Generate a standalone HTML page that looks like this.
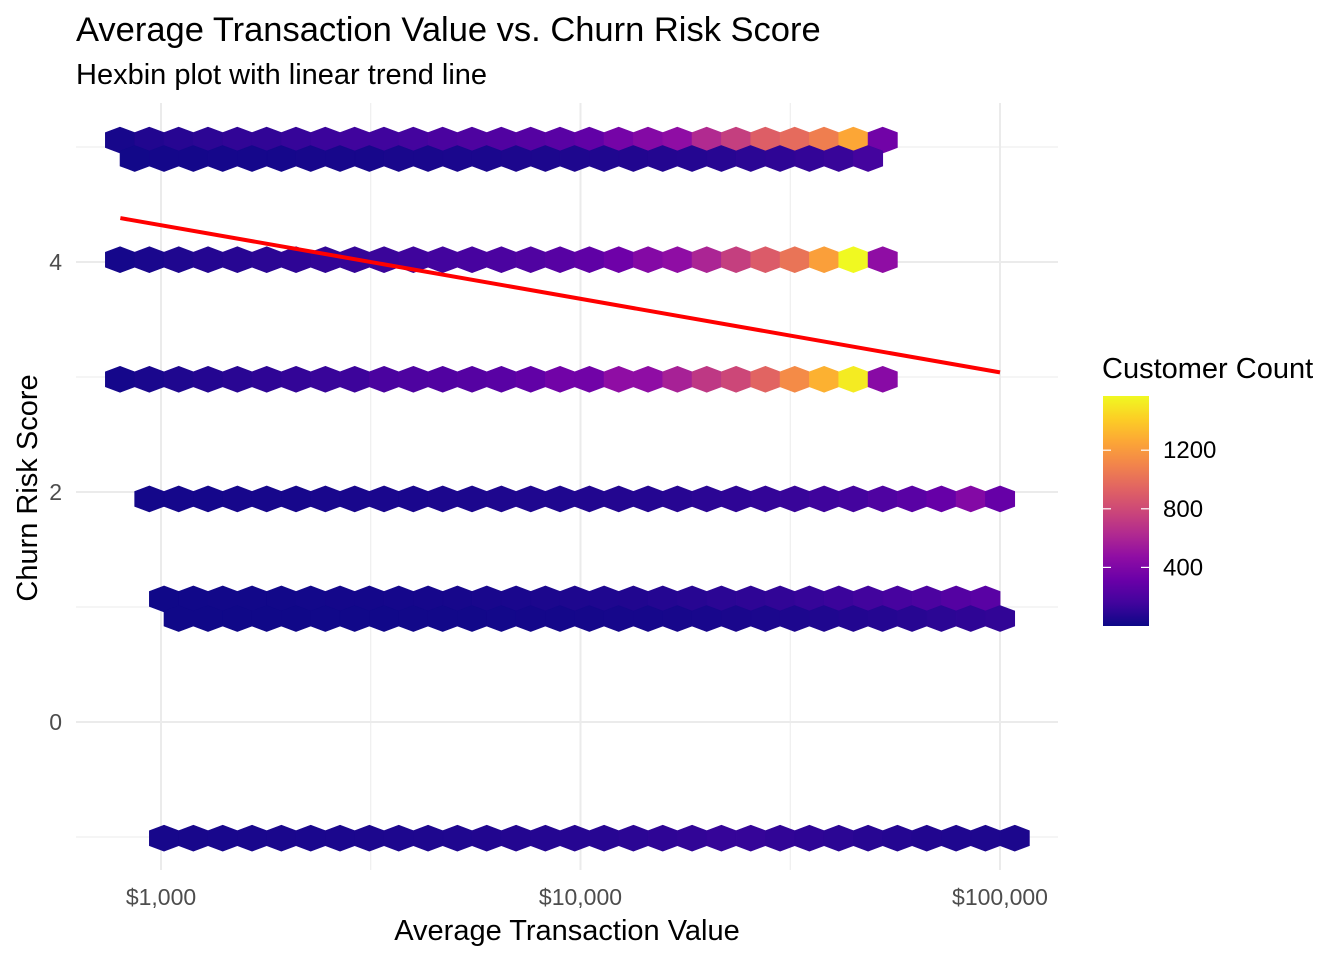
<!DOCTYPE html>
<html><head><meta charset="utf-8"><style>
html,body{margin:0;padding:0;background:#fff;}
svg text{font-family:"Liberation Sans",Arial,sans-serif;}
</style></head><body>
<svg id="chart" width="1344" height="960" xmlns="http://www.w3.org/2000/svg">
<defs>
<linearGradient id="plasma" x1="0" y1="1" x2="0" y2="0">
<stop offset="0" stop-color="#0d0887"/><stop offset="0.1" stop-color="#41049d"/><stop offset="0.2" stop-color="#6a00a8"/><stop offset="0.3" stop-color="#8f0da4"/><stop offset="0.4" stop-color="#b12a90"/><stop offset="0.5" stop-color="#cc4778"/><stop offset="0.6" stop-color="#e16462"/><stop offset="0.7" stop-color="#f2844b"/><stop offset="0.8" stop-color="#fca636"/><stop offset="0.9" stop-color="#fcce25"/><stop offset="1" stop-color="#f0f921"/>
</linearGradient>
</defs>
<g id="grid"></g>
<g id="hexes"></g>
<g id="trend"></g>
<g id="axes"></g>
<text x="76" y="41" font-size="34.5" fill="#000">Average Transaction Value vs. Churn Risk Score</text>
<text x="76" y="84" font-size="29" fill="#000">Hexbin plot with linear trend line</text>
<text x="567" y="940" font-size="29" text-anchor="middle" fill="#000">Average Transaction Value</text>
<text transform="translate(37,488) rotate(-90)" font-size="29" text-anchor="middle" fill="#000">Churn Risk Score</text>
<g>
<text x="1102" y="378" font-size="29" fill="#000">Customer Count</text>
<rect x="1103" y="396" width="46" height="230" fill="url(#plasma)"/>
<g id="legendTicks"></g>
</g>
</svg>
<script>
const xTicks=[1000,10000,100000];
const xTickLabels=["$1,000","$10,000","$100,000"];
const xMinor=[3162.28,31622.8];
const yTicks=[0,2,4];
const yMinor=[-1,1,3,5];
const legendTicks=[400,800,1200];
const rowY=[5.06,4.90,4.02,2.98,1.94,1.07,0.90,-1.01];
const rowLogStart=[2.9023,2.9373,2.9023,2.9023,2.9722,3.0072,3.0421,3.0072];
const row0=[30,60,80,95,110,110,125,140,155,155,170,190,205,220,235,250,280,360,425,470,630,740,910,975,1070,1255,345];
const row1=[15,20,20,25,25,25,30,30,30,35,35,40,40,45,45,50,55,60,65,70,80,90,100,115,130,170];
const row2=[25,40,55,70,80,90,100,110,120,135,150,165,180,195,215,240,270,330,425,470,600,740,895,1020,1225,1570,470];
const row3=[25,40,55,70,85,100,115,130,145,190,205,220,235,250,280,345,345,470,470,580,705,785,940,1130,1300,1520,440];
const row4=[20,25,25,30,30,30,35,35,40,40,45,45,50,55,55,60,65,70,80,90,100,115,130,150,170,210,250,300,420,300];
const row5=[10,12,14,15,16,18,20,22,25,28,30,35,40,45,50,55,60,70,80,90,100,110,125,140,160,180,200,230,250];
const row6=[8,8,9,10,10,11,12,13,14,15,16,18,20,22,24,26,28,30,34,38,42,48,55,62,70,80,90,100,110];
const row7=[30,32,34,36,38,40,42,45,48,50,55,60,65,70,75,80,90,100,110,120,120,110,100,90,80,70,60,55,50,45];
const rows=[row0,row1,row2,row3,row4,row5,row6,row7];
const trendSlope=-0.640, trendIntercept=6.24;
const trendX=[800,100000];
const countMax=1570;

const binStep=0.06993;
const NS="http://www.w3.org/2000/svg";
const X0=161,PXDEC=419.5,Y0=722,PXUNIT=115;
const xs=v=>X0+(Math.log10(v)-3)*PXDEC;
const xsLog=l=>X0+(l-3)*PXDEC;
const ys=v=>Y0-v*PXUNIT;
const stops=["#0d0887","#41049d","#6a00a8","#8f0da4","#b12a90","#cc4778","#e16462","#f2844b","#fca636","#fcce25","#f0f921"];
function hex2(c){return [1,3,5].map(i=>parseInt(c.substr(i,2),16));}
function color(v){let t=Math.max(0,Math.min(1,v/countMax))*10;let i=Math.min(9,Math.floor(t));let f=t-i;let a=hex2(stops[i]),b=hex2(stops[i+1]);return "rgb("+a.map((x,j)=>Math.round(x+(b[j]-x)*f)).join(",")+")";}
function mk(tag,attrs,parent){const e=document.createElementNS(NS,tag);for(const k in attrs)e.setAttribute(k,attrs[k]);parent.appendChild(e);return e;}
const grid=document.getElementById('grid');
yMinor.forEach(v=>{const l=mk('line',{x1:76,x2:1058,y1:ys(v),y2:ys(v),stroke:'#ebebeb','stroke-width':1},grid);

});
xMinor.forEach(v=>{const l=mk('line',{x1:xs(v),x2:xs(v),y1:103,y2:870,stroke:'#ebebeb','stroke-width':1},grid);

});
yTicks.forEach(v=>{const l=mk('line',{x1:76,x2:1058,y1:ys(v),y2:ys(v),stroke:'#ebebeb','stroke-width':2},grid);

});
xTicks.forEach(v=>{const l=mk('line',{x1:xs(v),x2:xs(v),y1:103,y2:870,stroke:'#ebebeb','stroke-width':2},grid);

});
const hg=document.getElementById('hexes');
const HW=14.67,HV=13,HS=7.5;
rows.forEach((r,ri)=>{const cy=ys(rowY[ri]);r.forEach((c,k)=>{const cx=xsLog(rowLogStart[ri]+k*binStep);
const pts=[[cx,cy-HV],[cx+HW,cy-HS],[cx+HW,cy+HS],[cx,cy+HV],[cx-HW,cy+HS],[cx-HW,cy-HS]].map(p=>p.join(',')).join(' ');
const h=mk('polygon',{points:pts,fill:color(c),stroke:color(c),'stroke-width':0.6},hg);

});});
const tg=document.getElementById('trend');
const tl=mk('line',{x1:xs(trendX[0]),y1:ys(trendIntercept+trendSlope*Math.log10(trendX[0])),x2:xs(trendX[1]),y2:ys(trendIntercept+trendSlope*Math.log10(trendX[1])),stroke:'#ff0000','stroke-width':4},tg);


const ax=document.getElementById('axes');
xTicks.forEach((v,i)=>{const t=mk('text',{x:xs(v),y:905,'font-size':23,'text-anchor':'middle',fill:'#4d4d4d'},ax);t.textContent=xTickLabels[i];

});
yTicks.forEach(v=>{const t=mk('text',{x:62,y:ys(v)+8,'font-size':23,'text-anchor':'end',fill:'#4d4d4d'},ax);t.textContent=String(v);

});
const lg=document.getElementById('legendTicks');
const ly=v=>626-v/countMax*230;
legendTicks.forEach(v=>{const y=ly(v);
mk('line',{x1:1103,x2:1111,y1:y,y2:y,stroke:'#fff','stroke-width':1.2},lg);
mk('line',{x1:1141,x2:1149,y1:y,y2:y,stroke:'#fff','stroke-width':1.2},lg);
const t=mk('text',{x:1163,y:y+8,'font-size':24,fill:'#000'},lg);t.textContent=String(v);

});
</script>
</body></html>
